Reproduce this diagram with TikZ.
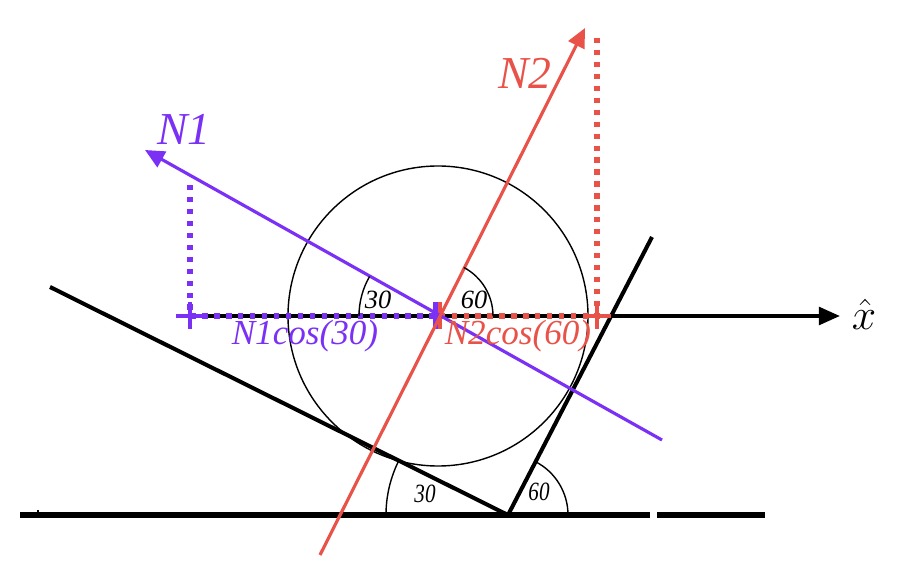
\documentclass[tikz,border=0pt]{standalone}
\usepackage{fontspec}
\setmainfont{Liberation Serif}
\usetikzlibrary{arrows.meta}
\definecolor{nviolet}{RGB}{122,48,245}
\definecolor{nred}{RGB}{232,82,72}

\begin{document}
\begin{tikzpicture}[x=0.02cm,y=0.02cm,
	wall/.style={line width=2.3pt},
	force/.style={line width=1.8pt,-{Triangle[length=11pt,width=10pt]}},
	proj/.style={line width=3pt,dash pattern=on 3pt off 3.8pt},
	tick/.style={line width=2.6pt},
	ang/.style={font=\itshape\fontsize{15}{15}\selectfont,inner sep=0pt},
	lbl/.style={font=\itshape\fontsize{20}{20}\selectfont,inner sep=0pt}]
	\useasboundingbox (0,0) rectangle (900,572);

	% ground and wedge
	\coordinate (g1) at (20,57);
	\coordinate (g2) at (650,57);
	\coordinate (g3) at (657,57);
	\coordinate (g4) at (765,57);
	\coordinate (V) at (508,57);
	\coordinate (A) at (50,285);
	\coordinate (B) at (652,335);
	\draw[line width=3.4pt] (g1) -- (g2);
	\draw[line width=3.4pt] (g3) -- (g4);
	\draw[line width=0.8pt] (38,57) -- (38,62);
	\draw[wall] (A) -- (V) -- (B);

	% ball
	\coordinate (O) at (438,256);
	\draw[line width=0.8pt] (O) circle [radius=150];

	% x axis
	\coordinate (xs) at (190,256);
	\coordinate (xe) at (840,256);
	\node[font=\fontsize{28}{28}\selectfont,inner sep=0pt] (xhat) at (864,258) {$\hat{x}$};
	\draw[line width=2.2pt,-{Triangle[length=12pt,width=10pt]}] (xs) -- (xe);

	% projections
	\coordinate (p1) at (190,387);
	\coordinate (p2) at (597,534);
	\coordinate (q2) at (597,256);
	\draw[proj,nviolet] (p1) -- (xs) -- (O);
	\draw[proj,nred] (p2) -- (q2) -- (O);
	\draw[tick,nviolet] (176,256) -- (204,256) (190,243) -- (190,270);
	\draw[line width=3.4pt,nviolet] (436,243) -- (436,270);
	\draw[line width=2.4pt,nred] (440,243) -- (440,270);
	\draw[tick,nred] (583,256) -- (611,256) (597,243) -- (597,270);

	% forces
	\coordinate (n1s) at (662,132);
	\coordinate (n1e) at (145,422);
	\coordinate (n2s) at (320,17);
	\coordinate (n2e) at (585,544);
	\draw[force,nviolet] (n1s) -- (n1e);
	\draw[force,nred] (n2s) -- (n2e);
	\node[font=\itshape\fontsize{26}{26}\selectfont,nviolet] (N1) at (184,443) {N1};
	\node[font=\itshape\fontsize{26}{26}\selectfont,nred] (N2) at (525,499) {N2};
	\node[lbl,nviolet] (c1) at (305,236) {N1cos(30)};
	\node[lbl,nred] (c2) at (518,236) {N2cos(60)};

	% angles
	\draw[line width=0.8pt] ([shift={(180:79)}]O) arc [start angle=180,end angle=150,radius=79];
	\draw[line width=0.8pt] ([shift={(0:55)}]O) arc [start angle=0,end angle=62,radius=55];
	\node[ang] (a1) at (378,272) {30};
	\node[ang] (a2) at (474,272) {60};
	\draw[line width=0.8pt] ([shift={(180:122)}]V) arc [start angle=180,end angle=153.5,radius=122];
	\draw[line width=0.8pt] ([shift={(0:60)}]V) arc [start angle=0,end angle=62.6,radius=60];
	\node[ang,xscale=0.8] (a3) at (425,78) {30};
	\node[ang,xscale=0.8] (a4) at (539,80) {60};
\end{tikzpicture}
\end{document}
